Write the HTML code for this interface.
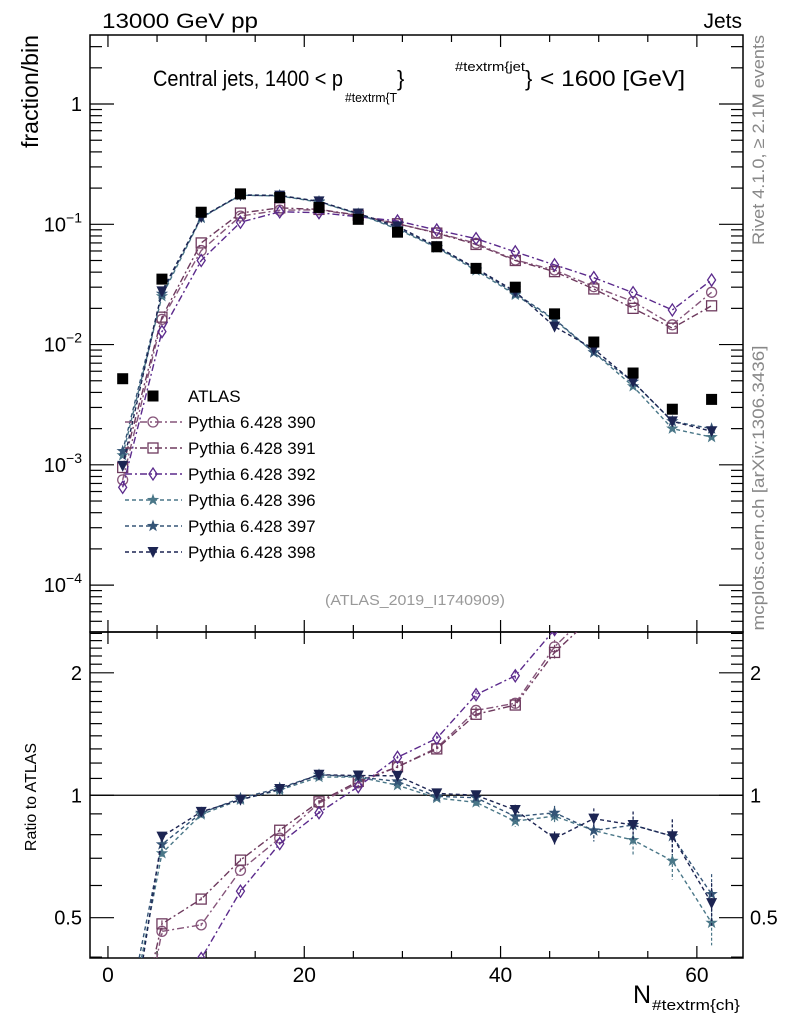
<!DOCTYPE html>
<html><head><meta charset="utf-8">
<style>
html,body{margin:0;padding:0;background:#fff;overflow:hidden;width:786px;height:1024px;}
svg{display:block;font-family:"Liberation Sans",sans-serif;}
</style></head>
<body>
<svg id="chart" width="786" height="1024" xmlns="http://www.w3.org/2000/svg">
<g id="main"></g>
<g id="ratio"></g>
<text x="102" y="28" font-size="21" textLength="156" lengthAdjust="spacingAndGlyphs">13000 GeV pp</text>
<text x="742" y="28" font-size="21" text-anchor="end">Jets</text>
<g>
<text x="153" y="86" font-size="22" textLength="190" lengthAdjust="spacingAndGlyphs">Central jets, 1400 &lt; p</text>
<text x="345" y="102" font-size="13" textLength="52" lengthAdjust="spacingAndGlyphs">#textrm{T</text>
<text x="397" y="86" font-size="22">}</text>
<text x="455" y="71" font-size="13" textLength="70" lengthAdjust="spacingAndGlyphs">#textrm{jet</text>
<text x="525" y="86" font-size="22">}</text>
<text x="540" y="86" font-size="22" textLength="145" lengthAdjust="spacingAndGlyphs">&lt; 1600 [GeV]</text>
</g>
<text transform="translate(38,35) rotate(-90)" font-size="23" text-anchor="end" textLength="113" lengthAdjust="spacingAndGlyphs">fraction/bin</text>
<text transform="translate(36,797) rotate(-90)" font-size="16" text-anchor="middle">Ratio to ATLAS</text>
<text transform="translate(764,140) rotate(-90)" font-size="17" fill="#888" text-anchor="middle" textLength="210" lengthAdjust="spacingAndGlyphs">Rivet 4.1.0, ≥ 2.1M events</text>
<text transform="translate(764,488) rotate(-90)" font-size="17" fill="#888" text-anchor="middle" textLength="285" lengthAdjust="spacingAndGlyphs">mcplots.cern.ch [arXiv:1306.3436]</text>
<text x="415" y="605" font-size="15" fill="#999" text-anchor="middle" textLength="180" lengthAdjust="spacingAndGlyphs">(ATLAS_2019_I1740909)</text>
<g>
<text x="633" y="1003" font-size="25">N</text>
<text x="652" y="1010" font-size="15" textLength="88" lengthAdjust="spacingAndGlyphs">#textrm{ch}</text>
</g>
<g id="legend"></g>
</svg>
<script>
const bins = [1.5,5.5,9.5,13.5,17.5,21.5,25.5,29.5,33.5,37.5,41.5,45.5,49.5,53.5,57.5,61.5];
const atlas = [0.0052,0.035,0.126,0.179,0.167,0.138,0.11,0.086,0.065,0.043,0.030,0.018,0.0105,0.0058,0.0029,0.0035];
const p390 = [0.00075,0.0162,0.0605,0.117,0.131,0.132,0.118,0.101,0.085,0.0695,0.0505,0.0417,0.0303,0.0228,0.0146,0.0272];
const p391 = [0.00095,0.0169,0.070,0.124,0.137,0.133,0.119,0.101,0.0845,0.068,0.050,0.0404,0.029,0.020,0.0137,0.021];
const p392 = [0.00065,0.0128,0.050,0.104,0.127,0.125,0.1155,0.1066,0.0897,0.076,0.059,0.046,0.036,0.027,0.0194,0.0344];
const p396 = [0.0012,0.0252,0.113,0.1745,0.172,0.153,0.122,0.091,0.064,0.0413,0.0259,0.016,0.0086,0.0045,0.0020,0.0017];
const p397 = [0.0013,0.0265,0.114,0.176,0.174,0.155,0.122,0.093,0.0646,0.0424,0.0266,0.0163,0.0086,0.0049,0.0023,0.0020];
const p398 = [0.00098,0.0277,0.1147,0.1745,0.173,0.155,0.123,0.096,0.0657,0.043,0.0276,0.0141,0.0092,0.0049,0.0023,0.0019];
const relErr = [0.15,0.02,0.01,0.01,0.01,0.01,0.01,0.01,0.015,0.02,0.03,0.04,0.06,0.08,0.1,0.12];
const xTicks = [0,20,40,60];
const ratioTicks = [0.5,1,2];
const ratioTickLabels = ["0.5","1","2"];

const NS="http://www.w3.org/2000/svg";
const L=90,R=743,MT=35,MB=632,RT=632,RB=958;
const XMIN=-1.83,XMAX=64.7;
const sx=v=>L+(v-XMIN)/(XMAX-XMIN)*(R-L);
const LYMAX=0.574,LYMIN=-4.39;
const sy=v=>MT+(LYMAX-Math.log10(v))/(LYMAX-LYMIN)*(MB-MT);
const RMAX=Math.log2(2.52),RMIN=Math.log2(0.398);
const ry=v=>RT+(RMAX-Math.log2(v))/(RMAX-RMIN)*(RB-RT);
function el(tag,attrs,parent){const e=document.createElementNS(NS,tag);for(const k in attrs)e.setAttribute(k,attrs[k]);parent.appendChild(e);return e;}
const main=document.getElementById('main'),ratio=document.getElementById('ratio'),leg=document.getElementById('legend');

const series=[
 {name:'Pythia 6.428 390',d:p390,c:'#86557a',m:'circle',dash:'7 3 2 3'},
 {name:'Pythia 6.428 391',d:p391,c:'#6e3a5e',m:'square',dash:'7 3 2 3'},
 {name:'Pythia 6.428 392',d:p392,c:'#5b2a8c',m:'diamond',dash:'7 3 2 3'},
 {name:'Pythia 6.428 396',d:p396,c:'#4a7788',m:'star',dash:'4 3'},
 {name:'Pythia 6.428 397',d:p397,c:'#355577',m:'star',dash:'4 3'},
 {name:'Pythia 6.428 398',d:p398,c:'#1c2452',m:'tri',dash:'4 3'}
];

function marker(g,type,x,y,c){
  let e;
  if(type==='circle'){e=el('circle',{cx:x,cy:y,r:5,fill:'none',stroke:c,'stroke-width':1.3},g);}
  else if(type==='square'){e=el('rect',{x:x-5,y:y-5,width:10,height:10,fill:'none',stroke:c,'stroke-width':1.3},g);}
  else if(type==='diamond'){e=el('polygon',{points:`${x},${y-6} ${x+4},${y} ${x},${y+6} ${x-4},${y}`,fill:'none',stroke:c,'stroke-width':1.3},g);}
  else if(type==='star'){let p=[];for(let i=0;i<10;i++){const a=-Math.PI/2+i*Math.PI/5,r=i%2?2.6:6.5;p.push((x+r*Math.cos(a)).toFixed(1)+','+(y+r*Math.sin(a)).toFixed(1));}e=el('polygon',{points:p.join(' '),fill:c},g);}
  else if(type==='tri'){e=el('polygon',{points:`${x-5.5},${y-5} ${x+5.5},${y-5} ${x},${y+6}`,fill:c},g);}
  else {e=el('rect',{x:x-5.5,y:y-5.5,width:11,height:11,fill:'#000'},g);}
  return e;
}

const defs=el('defs',{},document.getElementById('chart'));
const cp1=el('clipPath',{id:'cm'},defs);el('rect',{x:L,y:MT,width:R-L,height:MB-MT},cp1);
const cp2=el('clipPath',{id:'cr'},defs);el('rect',{x:L,y:RT,width:R-L,height:RB-RT},cp2);

const f1=el('rect',{x:L,y:MT,width:R-L,height:MB-MT,fill:'none',stroke:'#000','stroke-width':1.5},main);


const f2=el('rect',{x:L,y:RT,width:R-L,height:RB-RT,fill:'none',stroke:'#000','stroke-width':1.5},ratio);



for(let v=0;v<=XMAX;v+=5){
  const x=sx(v),len=(v%20===0)?12:7;
  [[MT,1],[MB,-1],[RT,1],[RB,-1]].forEach(([y,s])=>el('line',{x1:x,y1:y,x2:x,y2:y+s*len,stroke:'#000','stroke-width':1.2},ratio));
}
xTicks.forEach(v=>{
  const t=el('text',{x:sx(v),y:982,'font-size':21,'text-anchor':'middle'},ratio);t.textContent=v;
  
  
});
for(let e=-5;e<=0;e++){
  for(let k=1;k<10;k++){
    const v=k*Math.pow(10,e);const lv=Math.log10(v);
    if(lv<LYMIN||lv>LYMAX)continue;
    const y=sy(v),len=k===1?24:12;
    el('line',{x1:L,y1:y,x2:L+len,y2:y,stroke:'#000','stroke-width':1.2},main);
    el('line',{x1:R,y1:y,x2:R-len,y2:y,stroke:'#000','stroke-width':1.2},main);
    if(k===1){
      const t=el('text',{x:82,y:y+7,'font-size':20,'text-anchor':'end'},main);
      if(e===0)t.textContent='1';
      else{t.textContent='10';const s=el('tspan',{dy:-9,'font-size':14},t);s.textContent=String(e).replace('-','−');}
      
      
    }
  }
}
for(let v=0.4;v<=2.5;v=Math.round((v+0.1)*10)/10){
  const major=ratioTicks.includes(v);const y=ry(v),len=major?24:12;
  el('line',{x1:L,y1:y,x2:L+len,y2:y,stroke:'#000','stroke-width':1.2},ratio);
  el('line',{x1:R,y1:y,x2:R-len,y2:y,stroke:'#000','stroke-width':1.2},ratio);
}
ratioTicks.forEach((v,i)=>{
  const a=el('text',{x:82,y:ry(v)+7,'font-size':20,'text-anchor':'end'},ratio);a.textContent=ratioTickLabels[i];
  
  
  const b=el('text',{x:750,y:ry(v)+7,'font-size':20},ratio);b.textContent=ratioTickLabels[i];
  
  
});
const ul=el('line',{x1:L,y1:ry(1),x2:R,y2:ry(1),stroke:'#000','stroke-width':1.3},ratio);



const gm=el('g',{'clip-path':'url(#cm)'},main),gr=el('g',{'clip-path':'url(#cr)'},ratio);
series.forEach(s=>{
  const pts=s.d.map((v,i)=>[sx(bins[i]),sy(v)]);
  const ln=el('polyline',{points:pts.map(p=>p.join(',')).join(' '),fill:'none',stroke:s.c,'stroke-width':1.4,'stroke-dasharray':s.dash},gm);
  
  
  const rpts=s.d.map((v,i)=>[sx(bins[i]),ry(v/atlas[i])]);
  const rl=el('polyline',{points:rpts.map(p=>p.join(',')).join(' '),fill:'none',stroke:s.c,'stroke-width':1.4,'stroke-dasharray':s.dash},gr);
  
  
  s.d.forEach((v,i)=>{
    const x=sx(bins[i]);
    const m=marker(gm,s.m,x,sy(v),s.c);
    
    
    const r=v/atlas[i];
    el('line',{x1:x,y1:ry(r*(1+relErr[i])),x2:x,y2:ry(r*(1-relErr[i])),stroke:s.c,'stroke-width':1.2,'stroke-dasharray':'3 2'},gr);
    const rm=marker(gr,s.m,x,ry(r),s.c);
    
    
  });
});
atlas.forEach((v,i)=>{
  const m=marker(gm,'data',sx(bins[i]),sy(v),'#000');
  
  
});

const ly0=396,ldy=26;
marker(leg,'data',153,ly0,'#000');
const lt=el('text',{x:188,y:ly0+6,'font-size':17},leg);lt.textContent='ATLAS';


series.forEach((s,i)=>{
  const y=ly0+ldy*(i+1);
  el('line',{x1:125,y1:y,x2:182,y2:y,stroke:s.c,'stroke-width':1.4,'stroke-dasharray':s.dash},leg);
  marker(leg,s.m,153,y,s.c);
  const t=el('text',{x:188,y:y+6,'font-size':17},leg);t.textContent=s.name;
  
  
});
</script>
</body></html>
